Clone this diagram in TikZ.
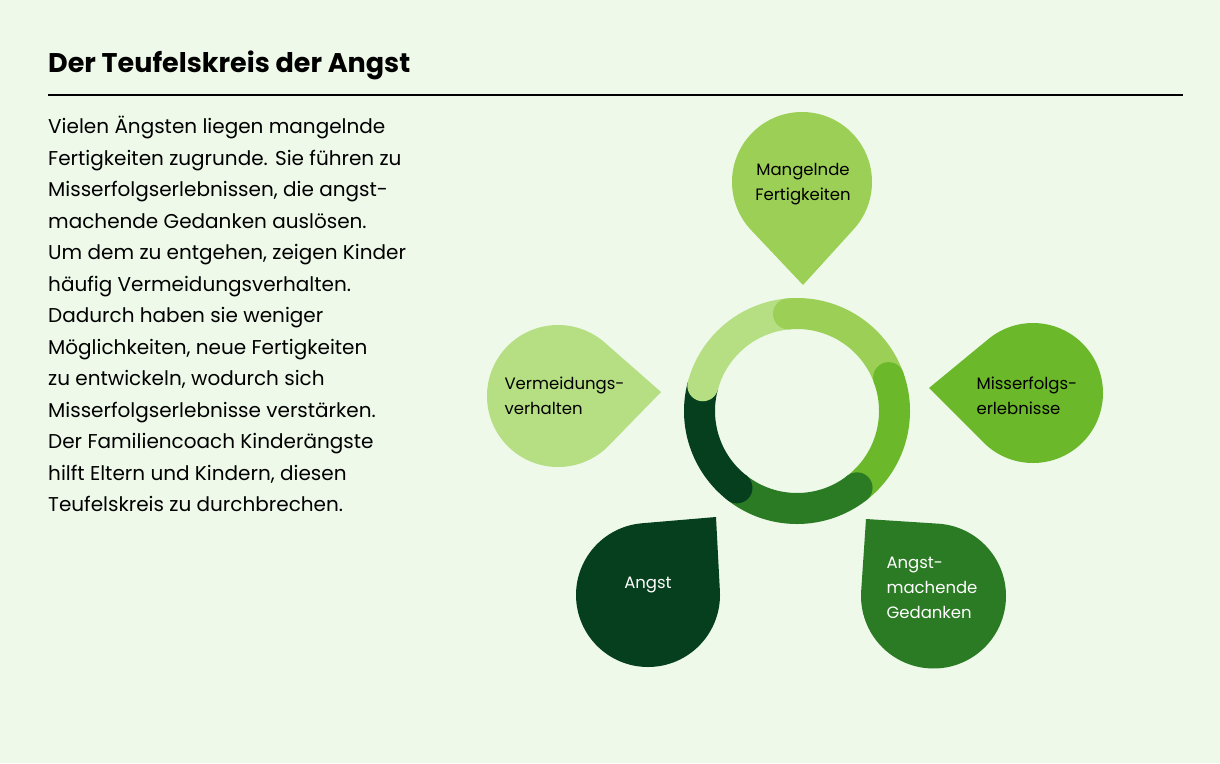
\documentclass[tikz,border=0pt]{standalone}
\usepackage{fontspec}
\setmainfont{Poppins}
\usetikzlibrary{calc}
\definecolor{bg}{HTML}{EEF9EA}
\definecolor{cLight}{HTML}{B5DF82}
\definecolor{cTop}{HTML}{9CCF55}
\definecolor{cRight}{HTML}{6BB82A}
\definecolor{cDark}{HTML}{2B7A24}
\definecolor{cDarkest}{HTML}{053F1D}
\newcommand\mydrop[6]{%
  \pgfmathsetmacro\dd{veclen(#4-#1,#5-#2)}%
  \pgfmathsetmacro\th{atan2(#5-#2,#4-#1)}%
  \pgfmathsetmacro\al{acos(#3/\dd)}%
  \fill[#6] (#4,#5) -- ($(#1,#2)+(\th+\al:#3)$) arc[start angle=\th+\al, end angle=\th-\al+360, radius=#3] -- cycle;}
\newcommand\ringseg[3]{\draw[line width=31pt,#3] ($(ring)+(-#1:97.5)$) arc[start angle=-#1, end angle=-#2, radius=97.5];}
\newcommand\ringcap[2]{\fill[#2] ($(ring)+(-#1:97.5)$) circle[radius=15.5];}
\begin{document}
\begin{tikzpicture}[x=1pt,y=-1pt,
  lbl/.style={font=\fontsize{16.5}{25}\selectfont,align=left,anchor=west},
  body/.style={font=\fontsize{20}{31.5}\selectfont,align=left,anchor=north west,inner sep=0}]
\fill[bg] (0,0) rectangle (1220,763);
\useasboundingbox (0,0) rectangle (1220,763);
\node[anchor=base west,inner sep=0,font=\fontsize{27}{30}\selectfont\bfseries] (title) at (48,72) {Der Teufelskreis der Angst};
\coordinate (l1) at (48,95); \coordinate (l2) at (1183,95);
\draw[line width=1.5pt] (l1) -- (l2);
\node[body] (text) at (48,116) {Vielen Ängsten liegen mangelnde\\Fertigkeiten zugrunde. Sie führen zu\\Misserfolgserlebnissen, die angst-\\machende Gedanken auslösen.\\Um dem zu entgehen, zeigen Kinder\\häufig Vermeidungsverhalten.\\Dadurch haben sie weniger\\Möglichkeiten, neue Fertigkeiten\\zu entwickeln, wodurch sich\\Misserfolgserlebnisse verstärken.\\Der Familiencoach Kinderängste\\hilft Eltern und Kindern, diesen\\Teufelskreis zu durchbrechen.};
% drops
\mydrop{802}{182}{70}{803}{285}{cTop}
\mydrop{1033}{393}{70}{929}{388}{cRight}
\mydrop{558}{396}{71}{661}{392}{cLight}
\mydrop{648}{595}{72}{716}{517}{cDarkest}
\mydrop{933.5}{596}{72.5}{866}{519}{cDark}
% ring
\coordinate (ring) at (797,411);
\ringseg{165}{95}{cLight}
\ringseg{95}{20}{cTop}
\ringseg{20}{-52}{cRight}
\ringseg{-52}{-128}{cDark}
\ringseg{165}{232}{cDarkest}
\ringcap{165}{cLight}
\ringcap{95}{cTop}
\ringcap{20}{cRight}
\ringcap{-52}{cDark}
\ringcap{232}{cDarkest}
% labels
\node[lbl,align=center,anchor=center] (n1) at (803,184) {Mangelnde\\Fertigkeiten};
\node[lbl] (n2) at (973,396) {Misserfolgs-\\erlebnisse};
\node[lbl] (n3) at (501,396) {Vermeidungs-\\verhalten};
\node[lbl,text=white,anchor=center] (n4) at (648,585) {Angst};
\node[lbl,text=white] (n5) at (883,588) {Angst-\\machende\\Gedanken};
\end{tikzpicture}
\end{document}
